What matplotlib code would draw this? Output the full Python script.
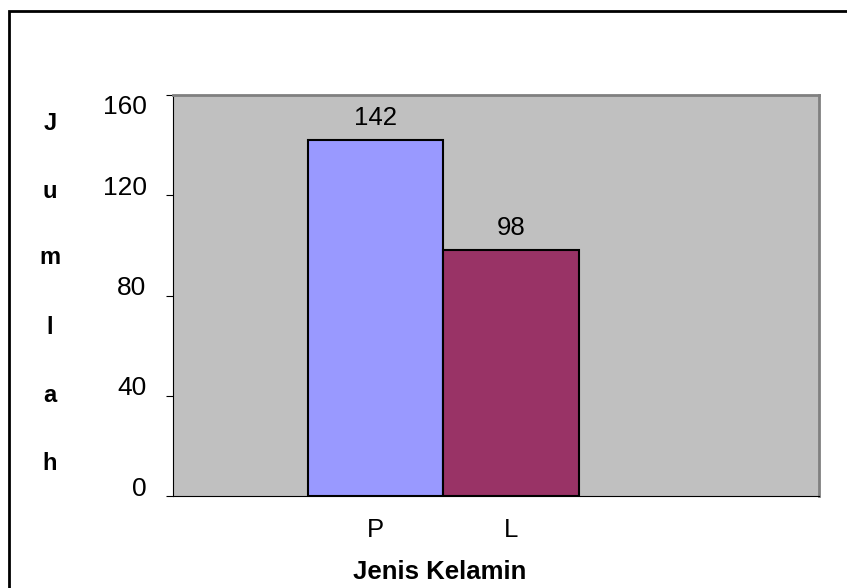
import matplotlib
matplotlib.use("Agg")
import matplotlib.pyplot as plt
from matplotlib.patches import Rectangle
from matplotlib.transforms import ScaledTranslation

plt.rcParams['font.family'] = ['Liberation Sans', 'DejaVu Sans']

# data
categories = ['P', 'L']
values = [142, 98]
colors = ['#9999FF', '#993366']
yticks = [0, 40, 80, 120, 160]
ylabel_letters = ['J', 'u', 'm', 'l', 'a', 'h']

W, H = 847, 588
fig = plt.figure(figsize=(W / 100, H / 100), dpi=100)

# outer frame (only left and top visible in the picture)
fig.patches.append(Rectangle((9 / W, -0.1), 1.2, 1 - 11 / H + 0.1, transform=fig.transFigure,
                             fill=False, edgecolor='black', linewidth=2))

left, right, top, bottom = 173, 819, 95, 496
ax = fig.add_axes([left / W, 1 - bottom / H, (right - left) / W, (bottom - top) / H])
ax.set_facecolor('#C0C0C0')

x = list(range(len(categories)))
ax.bar(x, values, width=1.0, color=colors, edgecolor='black', linewidth=1.5)
for xi, v in zip(x, values):
    ax.annotate(str(v), (xi, v), xytext=(0, 10), textcoords='offset pixels',
                ha='center', va='bottom', fontsize=18.5)

ax.set_xlim(-1.494, 3.273)
ax.set_ylim(0, 160)
ax.set_yticks(yticks)
ax.set_yticklabels([str(t) for t in yticks], fontsize=19)
ax.set_xticks(x)
ax.set_xticklabels(categories, fontsize=18.5)
ax.tick_params(axis='y', length=5, width=0.8, pad=14)
ax.tick_params(axis='x', length=0, pad=16)

# Excel-style label placement: labels sit a bit above their ticks, top one below
for lab, t in zip(ax.get_yticklabels(), yticks):
    dy = -9 if t == 160 else 10
    lab.set_transform(lab.get_transform() + ScaledTranslation(0, dy / 100, fig.dpi_scale_trans))

ax.spines['left'].set_color('black')
ax.spines['left'].set_linewidth(0.8)
ax.spines['bottom'].set_color('black')
ax.spines['bottom'].set_linewidth(0.8)
ax.spines['top'].set_color('#808080')
ax.spines['top'].set_linewidth(2)
ax.spines['right'].set_color('#808080')
ax.spines['right'].set_linewidth(2)

# stacked y label letters
letter_y = [123, 192, 258, 327, 395, 463]
for ch, yy in zip(ylabel_letters, letter_y):
    fig.text(50 / W, 1 - yy / H, ch, ha='center', va='center', fontsize=17, fontweight='bold')

fig.text(440 / W, 1 - 572 / H, 'Jenis Kelamin', ha='center', va='center', fontsize=18.5, fontweight='bold')

fig.savefig('out.png', dpi=100)
